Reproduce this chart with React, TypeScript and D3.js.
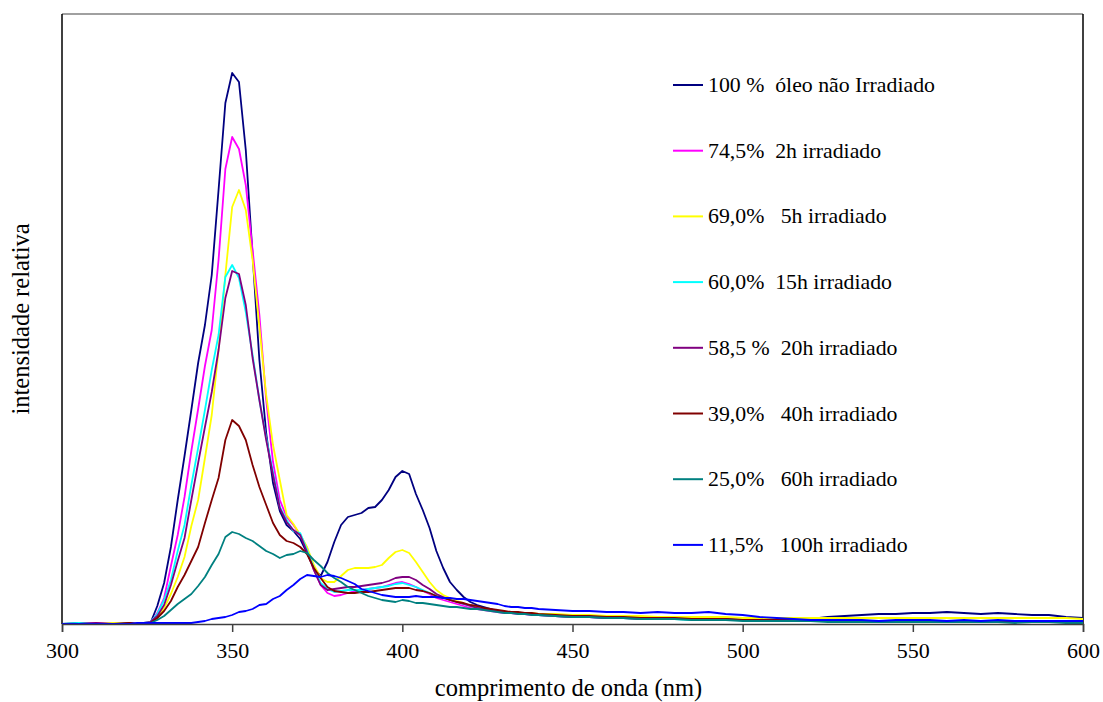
import * as d3 from 'd3';
import React, { useEffect, useRef } from 'react';

// sampling grid (nm)
const wavelengths = [
  300, 305, 310, 315, 320,
  322, 324, 326, 328, 330, 332, 334, 336, 338, 340,
  342, 344, 346, 348, 350, 352, 354, 356, 358, 360,
  362, 364, 366, 368, 370, 372, 374, 376, 378, 380,
  382, 384, 386, 388, 390, 392, 394, 396, 398, 400,
  402, 404, 406, 408, 410, 412, 414, 416, 418, 420,
  422, 424, 426, 428, 430, 432, 434, 436, 438, 440,
  445, 450, 455, 460, 465, 470, 475, 480, 485, 490,
  495, 500, 505, 510, 515, 520, 525, 530, 535, 540,
  545, 550, 555, 560, 565, 570, 575, 580, 585, 590,
  595, 600,
];

const s100 = [
  0, 1, 0, 0, 1,
  0, 1, 1, 18, 41, 77, 124, 168, 214, 261,
  299, 349, 434, 521, 551, 542, 474, 369, 264, 191,
  141, 113, 99, 93, 85, 71, 56, 48, 62, 82,
  99, 107, 109, 111, 116, 117, 124, 134, 147, 153,
  150, 130, 114, 96, 73, 56, 42, 34, 27, 22,
  19, 17, 15, 13, 12, 12, 11, 11, 10, 10,
  9, 8, 8, 7, 7, 6, 6, 6, 5, 5,
  5, 4, 4, 3, 3, 5, 7, 8, 9, 10,
  10, 11, 11, 12, 11, 10, 11, 10, 9, 9,
  7, 6,
];

const s2h = [
  0, 0, 1, 0, 0,
  0, 1, 1, 11, 26, 58, 89, 127, 173, 215,
  258, 294, 364, 455, 487, 475, 439, 374, 309, 224,
  162, 124, 107, 99, 89, 76, 54, 39, 31, 28,
  29, 31, 33, 34, 35, 36, 37, 39, 41, 42,
  40, 37, 33, 30, 26, 24, 22, 20, 18, 16,
  15, 14, 13, 12, 11, 11, 10, 10, 9, 9,
  8, 7, 7, 6, 6, 6, 5, 5, 5, 4,
  4, 4, 3, 3, 3, 3, 3, 3, 3, 3,
  3, 3, 3, 3, 3, 3, 3, 3, 2, 3,
  3, 2,
];

const s5h = [
  0, 0, 0, 1, 0,
  0, 0, 1, 6, 16, 30, 47, 67, 98, 124,
  166, 209, 274, 349, 417, 434, 414, 364, 297, 229,
  179, 144, 109, 100, 89, 77, 59, 46, 42, 42,
  48, 54, 56, 56, 56, 57, 59, 66, 72, 74,
  71, 62, 52, 42, 34, 29, 26, 23, 21, 18,
  16, 15, 14, 13, 12, 12, 11, 11, 11, 10,
  10, 9, 9, 8, 8, 8, 7, 7, 7, 7,
  7, 6, 6, 6, 6, 6, 6, 6, 6, 6,
  6, 6, 6, 6, 6, 6, 6, 6, 6, 6,
  6, 5,
];

const s15h = [
  0, 1, 0, 0, 0,
  0, 1, 2, 10, 24, 44, 73, 99, 139, 176,
  214, 254, 289, 347, 359, 346, 312, 269, 224, 186,
  152, 117, 104, 93, 91, 74, 56, 41, 35, 32,
  33, 34, 34, 34, 35, 36, 37, 38, 40, 41,
  39, 37, 34, 31, 28, 26, 24, 22, 20, 18,
  16, 15, 14, 13, 12, 11, 11, 10, 10, 9,
  8, 7, 7, 6, 6, 5, 5, 5, 4, 4,
  4, 4, 3, 3, 3, 3, 3, 2, 3, 3,
  2, 2, 3, 2, 2, 3, 2, 2, 2, 2,
  2, 2,
];

const s20h = [
  0, 0, 1, 0, 0,
  0, 1, 2, 8, 19, 39, 63, 86, 124, 161,
  197, 232, 274, 326, 353, 350, 319, 266, 224, 184,
  149, 116, 102, 94, 89, 72, 54, 39, 34, 35,
  36, 37, 37, 38, 39, 40, 41, 43, 46, 47,
  47, 44, 39, 35, 30, 27, 24, 22, 20, 18,
  16, 15, 14, 13, 12, 11, 11, 10, 10, 9,
  8, 7, 7, 6, 6, 5, 5, 5, 5, 4,
  4, 4, 3, 3, 3, 3, 3, 3, 3, 3,
  3, 2, 3, 3, 2, 3, 3, 2, 2, 2,
  2, 2,
];

const s40h = [
  0, 0, 0, 0, 1,
  0, 0, 1, 6, 13, 23, 37, 49, 63, 77,
  101, 124, 146, 184, 204, 198, 184, 159, 137, 119,
  101, 89, 83, 81, 77, 70, 56, 46, 37, 33,
  32, 31, 31, 32, 32, 33, 34, 35, 36, 36,
  36, 34, 33, 31, 28, 26, 24, 22, 21, 19,
  18, 16, 15, 14, 13, 12, 12, 11, 11, 10,
  9, 8, 8, 7, 7, 6, 6, 6, 5, 5,
  5, 4, 4, 4, 4, 4, 3, 3, 3, 3,
  3, 3, 3, 3, 3, 3, 2, 3, 3, 3,
  2, 2,
];

const s60h = [
  0, 0, 0, 0, 0,
  0, 0, 1, 4, 8, 14, 20, 25, 30, 38,
  47, 59, 70, 87, 92, 90, 86, 83, 78, 73,
  70, 66, 69, 70, 73, 71, 64, 58, 51, 46,
  42, 37, 34, 31, 28, 26, 24, 23, 22, 24,
  23, 21, 21, 20, 19, 18, 17, 17, 16, 15,
  15, 14, 13, 12, 11, 11, 10, 10, 9, 9,
  8, 7, 7, 6, 6, 5, 5, 5, 4, 4,
  4, 3, 3, 3, 3, 3, 2, 2, 2, 2,
  2, 2, 2, 2, 2, 2, 2, 1, 2, 2,
  1, 1,
];

const s100h = [
  0, 0, 0, 0, 0,
  1, 1, 1, 1, 1, 1, 1, 1, 1, 2,
  3, 5, 6, 7, 9, 12, 13, 15, 19, 20,
  25, 28, 34, 39, 45, 49, 48, 47, 49, 48,
  46, 43, 40, 35, 33, 31, 29, 28, 27, 27,
  27, 28, 27, 27, 27, 26, 26, 25, 25, 24,
  23, 22, 21, 20, 18, 17, 17, 16, 16, 15,
  14, 13, 13, 12, 12, 11, 12, 11, 11, 12,
  10, 9, 7, 6, 5, 4, 4, 4, 4, 3,
  4, 4, 4, 3, 4, 3, 4, 3, 3, 3,
  3, 3,
];

const seriesLabels = [
  '100 %  óleo não Irradiado',
  '74,5%  2h irradiado',
  '69,0%   5h irradiado',
  '60,0%  15h irradiado',
  '58,5 %  20h irradiado',
  '39,0%   40h irradiado',
  '25,0%   60h irradiado',
  '11,5%   100h irradiado',
];
const seriesColors = ['#000080', '#ff00ff', '#ffff00', '#00ffff', '#800080', '#800000', '#008080', '#0000ff'];
const seriesValues = [s100, s2h, s5h, s15h, s20h, s40h, s60h, s100h];
const xTicks = [300, 350, 400, 450, 500, 550, 600];

const W = 1103;
const H = 702;
const font = '"Liberation Serif", "Times New Roman", serif';

export default function App() {
  const ref = useRef<SVGSVGElement>(null);

  useEffect(() => {
    const svg = d3.select(ref.current);
    svg.selectAll('*').remove();

    const margin = { top: 14, right: 20, bottom: 78, left: 62 };
    const x = d3.scaleLinear().domain([300, 600]).range([margin.left, W - margin.right]);
    const y = d3.scaleLinear().domain([0, 610]).range([H - margin.bottom, margin.top]);

    svg.append('rect')
      .attr('width', W).attr('height', H).attr('fill', '#fff');

    // frame
    svg.append('line')
      .attr('x1', x(300)).attr('x2', x(600)).attr('y1', y(610)).attr('y2', y(610))
      .attr('stroke', '#808080').attr('stroke-width', 1.5);
    svg.append('line')
      .attr('x1', x(600)).attr('x2', x(600)).attr('y1', y(610)).attr('y2', y(0))
      .attr('stroke', '#000').attr('stroke-width', 1.5);
    svg.append('line')
      .attr('x1', x(300)).attr('x2', x(300)).attr('y1', y(610)).attr('y2', y(0))
      .attr('stroke', '#000').attr('stroke-width', 1.5);

    const line = d3.line<number>()
      .x((_, i) => x(wavelengths[i]))
      .y(d => y(d));

    const g = svg.append('g').attr('fill', 'none').attr('stroke-width', 1.8).attr('stroke-linejoin', 'round');
    seriesValues.forEach((vals, k) => {
      g.append('path')
        .attr('d', line(vals))
        .attr('stroke', seriesColors[k]);
    });

    // x axis
    const xAxis = svg.append('g')
      .attr('transform', `translate(0,${y(0)})`)
      .call(d3.axisBottom(x).tickValues(xTicks).tickSize(8).tickPadding(10));
    xAxis.select('.domain').attr('stroke', '#404040').attr('stroke-width', 1.5);
    xAxis.selectAll('.tick line').attr('stroke', '#404040').attr('stroke-width', 1.5);
    xAxis.selectAll('.tick text')
      .attr('font-family', font).attr('font-size', 22).attr('fill', '#000');

    svg.append('text')
      .attr('x', (x(300) + x(600)) / 2 - 4).attr('y', 696)
      .attr('text-anchor', 'middle')
      .attr('font-family', font).attr('font-size', 24.5)
      .text('comprimento de onda (nm)');

    svg.append('text')
      .attr('transform', `translate(29,${(y(0) + y(610)) / 2}) rotate(-90)`)
      .attr('text-anchor', 'middle')
      .attr('font-family', font).attr('font-size', 24.5)
      .text('intensidade relativa');

    // legend
    const legend = svg.append('g').attr('transform', 'translate(673,85)');
    seriesLabels.forEach((label, k) => {
      const row = legend.append('g').attr('transform', `translate(0,${k * 65.7})`);
      row.append('line')
        .attr('x1', 0).attr('x2', 30).attr('y1', 0).attr('y2', 0)
        .attr('stroke', seriesColors[k]).attr('stroke-width', 2);
      row.append('text')
        .attr('x', 35).attr('y', 7)
        .attr('font-family', font).attr('font-size', 21.8)
        .style('white-space', 'pre')
        .text(label);
    });
  }, []);

  return (
    <svg ref={ref} width={W} height={H} style={{ position: 'absolute', left: 0, top: 0 }} />
  );
}
